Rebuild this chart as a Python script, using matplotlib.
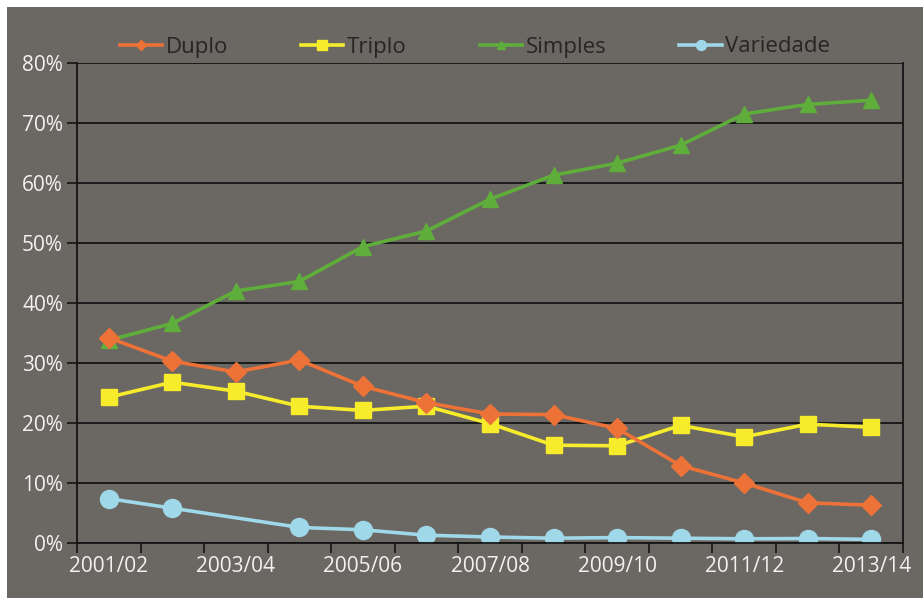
import matplotlib
matplotlib.use("Agg")
import matplotlib.pyplot as plt
from matplotlib.patches import Rectangle
from matplotlib.ticker import FixedLocator, FuncFormatter

seasons = ["2001/02", "2002/03", "2003/04", "2004/05", "2005/06", "2006/07", "2007/08",
           "2008/09", "2009/10", "2010/11", "2011/12", "2012/13", "2013/14"]
duplo = [34.2, 30.3, 28.5, 30.5, 26.1, 23.4, 21.5, 21.4, 19.1, 12.9, 10.0, 6.7, 6.3]
triplo = [24.3, 26.8, 25.3, 22.8, 22.1, 22.8, 19.9, 16.3, 16.2, 19.6, 17.7, 19.8, 19.3]
simples = [33.8, 36.6, 42.0, 43.6, 49.4, 52.0, 57.3, 61.3, 63.3, 66.3, 71.5, 73.1, 73.8]
variedade = [7.4, 5.8, None, 2.6, 2.2, 1.3, 1.0, 0.8, 0.9, 0.8, 0.7, 0.75, 0.6]
y_ticks = [0, 10, 20, 30, 40, 50, 60, 70, 80]

BG = "#6b6762"
fig = plt.figure(figsize=(9.23, 5.98), dpi=100, facecolor=BG)
fig.patches.append(Rectangle((0, 0), 7 / 923, 1, transform=fig.transFigure,
                             facecolor="white", edgecolor="none", zorder=5))
fig.patches.append(Rectangle((0, 1 - 7 / 598), 1, 7 / 598, transform=fig.transFigure,
                             facecolor="white", edgecolor="none", zorder=5))

ax = fig.add_axes([77 / 923, 1 - 543 / 598, (903 - 77) / 923, (543 - 63) / 598])
ax.set_facecolor(BG)

x = list(range(len(seasons)))

def clean(vals):
    xs = [i for i, v in zip(x, vals) if v is not None]
    ys = [v for v in vals if v is not None]
    return xs, ys

series = [
    ("Duplo", duplo, "#ec7238", "D", 10, 5),
    ("Triplo", triplo, "#f7ec2c", "s", 12, 3),
    ("Simples", simples, "#5fae3c", "^", 11, 4),
    ("Variedade", variedade, "#9fd8e8", "o", 13, 2),
]
handles = []
for name, vals, col, mk, ms, z in series:
    xs, ys = clean(vals)
    h, = ax.plot(xs, ys, color=col, lw=2.6, marker=mk, ms=ms, mec=col, mfc=col,
                 label=name, zorder=z)
    handles.append(h)

ax.set_xlim(-0.5, len(seasons) - 0.5)
ax.set_ylim(0, 80)
ax.yaxis.set_major_locator(FixedLocator(y_ticks))
ax.yaxis.set_major_formatter(FuncFormatter(lambda v, p: f"{int(v)}%"))
ax.grid(axis="y", color="#151515", lw=1.3)
ax.set_axisbelow(True)

# x ticks at category boundaries, labels every other category
ax.set_xticks([i - 0.5 for i in range(len(seasons) + 1)])
ax.set_xticklabels([])
ax.set_xticks(x[::2], minor=True)
ax.set_xticklabels(seasons[::2], minor=True)
ax.tick_params(axis="x", which="major", length=7, width=1.2, color="#151515")
ax.tick_params(axis="x", which="minor", length=0, pad=9, labelsize=15, labelcolor="#f2f2f2")
ax.tick_params(axis="y", length=7, width=1.2, color="#151515", pad=3, labelsize=15,
               labelcolor="#f2f2f2")

for s in ["left", "right", "bottom"]:
    ax.spines[s].set_color("#151515")
    ax.spines[s].set_linewidth(1.3)
ax.spines["top"].set_visible(False)

for lbl in ax.get_xticklabels(minor=True) + ax.get_yticklabels():
    lbl.set_family("Open Sans")

leg = fig.legend(handles=handles, loc="center", bbox_to_anchor=(475 / 923, 1 - 47 / 598),
                 ncol=4, frameon=False, handlelength=1.9, columnspacing=3.3,
                 handletextpad=0.15, prop={"family": "Open Sans", "size": 16}, markerscale=0.55)
for t in leg.get_texts():
    t.set_color("#262626")

fig.savefig("out.png", dpi=100, facecolor=fig.get_facecolor())
